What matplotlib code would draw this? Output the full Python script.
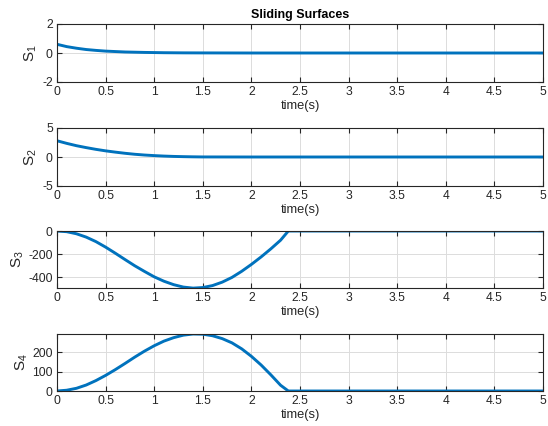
import numpy as np
import matplotlib
matplotlib.use("Agg")
import matplotlib.pyplot as plt

# time samples (s) and values
t_a = [0.0, 0.1, 0.2, 0.3, 0.4, 0.5, 0.6, 0.7, 0.8, 0.9, 1.0, 1.1, 1.2, 1.3, 1.4, 1.5, 2.0, 5.0]
s1 = [0.60, 0.44, 0.33, 0.24, 0.18, 0.13, 0.10, 0.07, 0.055, 0.04, 0.03, 0.02, 0.015, 0.01, 0.008, 0.006, 0.0, 0.0]
s2 = [2.80, 2.35, 1.95, 1.62, 1.32, 1.06, 0.84, 0.64, 0.47, 0.34, 0.24, 0.16, 0.10, 0.06, 0.03, 0.01, 0.0, 0.0]

t_b = [0.0, 0.1, 0.2, 0.3, 0.4, 0.5, 0.6, 0.7, 0.8, 0.9, 1.0, 1.1, 1.2, 1.3, 1.4, 1.5,
       1.6, 1.7, 1.8, 1.9, 2.0, 2.1, 2.2, 2.3, 2.38, 5.0]
s3 = [0, -6, -24, -53, -92, -140, -193, -248, -302, -351, -398, -436, -466, -487, -496, -491,
      -474, -444, -403, -350, -290, -225, -155, -80, 0, 0]
s4 = [0, 4, 14, 31, 54, 81, 111, 143, 176, 207, 235, 259, 277, 290, 296, 295,
      287, 272, 250, 219, 180, 135, 84, 30, 0, 0]

panels = [
    (t_a, s1, "S$_1$", (-2, 2), [-2, 0, 2]),
    (t_a, s2, "S$_2$", (-5, 5), [-5, 0, 5]),
    (t_b, s3, "S$_3$", (-495, 0), [-400, -200, 0]),
    (t_b, s4, "S$_4$", (0, 296), [0, 100, 200]),
]

plt.rcParams["font.family"] = ["Liberation Sans", "DejaVu Sans"]
plt.rcParams["mathtext.fontset"] = "custom"
plt.rcParams["mathtext.rm"] = "Liberation Sans"
plt.rcParams["mathtext.it"] = "Liberation Sans"
plt.rcParams["axes.unicode_minus"] = False

INK = "#262626"
BLUE = "#0072BD"
W, H = 548, 426
fig = plt.figure(figsize=(W / 100, H / 100), dpi=100, facecolor="white")

boxes = [(24, 82), (128, 186), (231, 288), (334, 391)]
left, right = 57, 543

for i, ((t, s, lab, yl, yt), (top, bot)) in enumerate(zip(panels, boxes)):
    ax = fig.add_axes([left / W, 1 - bot / H, (right - left) / W, (bot - top) / H])
    ax.plot(t, s, color=BLUE, lw=2.1, solid_capstyle="butt")
    ax.set_xlim(0, 5)
    ax.set_ylim(*yl)
    ax.set_xticks(np.arange(0, 5.01, 0.5))
    ax.set_xticklabels(["0", "0.5", "1", "1.5", "2", "2.5", "3", "3.5", "4", "4.5", "5"])
    ax.set_yticks(yt)
    ax.grid(True, color="#dcdcdc", lw=0.7)
    ax.set_axisbelow(True)
    for sp in ax.spines.values():
        sp.set_color(INK)
        sp.set_linewidth(0.8)
    ax.tick_params(direction="in", length=3.5, width=0.8, color=INK, labelcolor=INK,
                   labelsize=8.7, top=True, right=True, pad=3)
    ax.set_xlabel("time(s)", fontsize=9.3, color=INK, labelpad=1)
    ax.set_ylabel(lab, fontsize=11, color=INK, labelpad=2)
    if i == 0:
        ax.set_title("Sliding Surfaces", fontsize=9, fontweight="bold", color="black", pad=4)

fig.savefig("out.png", dpi=100, facecolor="white")
